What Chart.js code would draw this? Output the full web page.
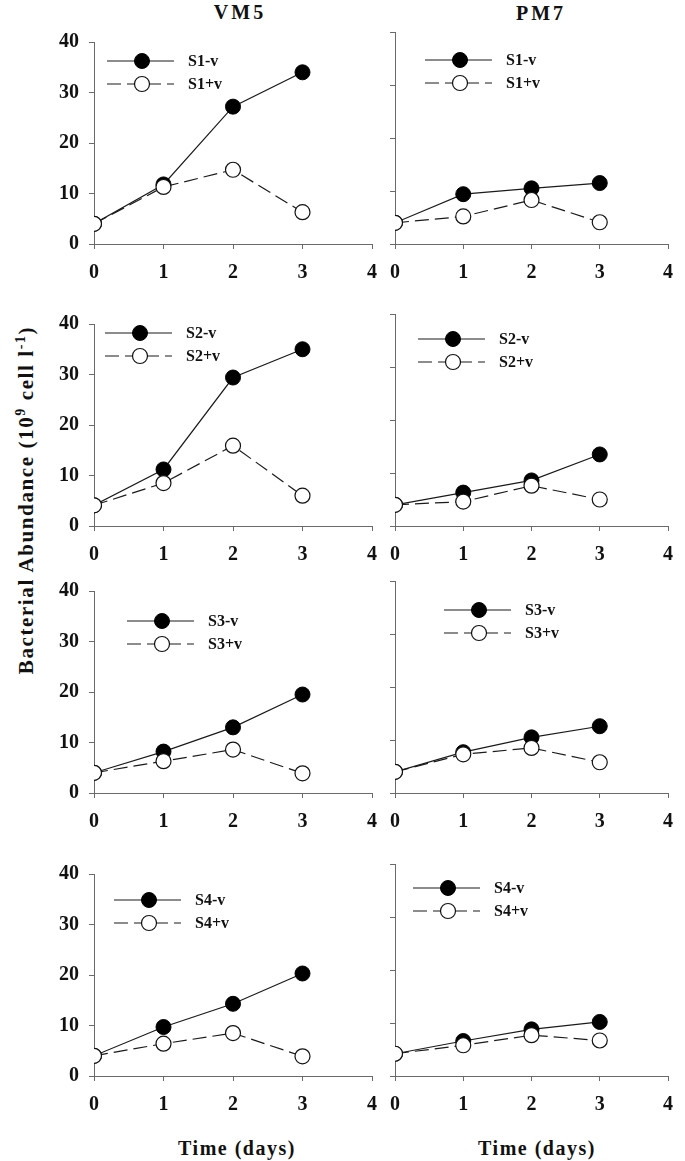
<!DOCTYPE html>
<html>
<head>
<meta charset="utf-8">
<script src="https://cdn.jsdelivr.net/npm/chart.js@4.4.1/dist/chart.umd.min.js"></script>
<style>
  body { margin: 0; background: #fff; }
  #page { position: relative; width: 685px; height: 1161px; overflow: hidden; }
  #page canvas { position: absolute; }
  .lbl { position: absolute; font-family: "Liberation Serif", "Times New Roman", serif; font-weight: bold; color: #111; white-space: nowrap; transform: translate(-50%, -50%); }
  .head { font-size: 20px; letter-spacing: 3px; }
  .xtitle { font-size: 20px; letter-spacing: 1.5px; }
  .ytitle { font-size: 21px; letter-spacing: 1.6px; transform: translate(-50%, -50%) rotate(-90deg); }
  .ytitle sup { font-size: 14px; }
</style>
</head>
<body>
<div id="page">
  <div class="lbl head" style="left:240px; top:12px;">VM5</div>
  <div class="lbl head" style="left:541px; top:13px;">PM7</div>
  <div class="lbl xtitle" style="left:237px; top:1148px;">Time (days)</div>
  <div class="lbl xtitle" style="left:537px; top:1148px;">Time (days)</div>
  <div class="lbl ytitle" style="left:26px; top:500px;">Bacterial Abundance (10<sup>9</sup> cell l<sup>-1</sup>)</div>
</div>
<script>
// time axis (days) and y ticks
const days = [0, 1, 2, 3];
const xMax = 4;
const yMax = 40;
const yStep = 10;

const sites = ["VM5", "PM7"];
const stations = ["S1", "S2", "S3", "S4"];

// bacterial abundance, 10^9 cell l-1 ("-v" = no virus, "+v" = virus added)
const vm5S1NoVirus = [4.0, 11.8, 27.2, 34.0];
const vm5S1Virus   = [4.0, 11.3, 14.7, 6.3];
const pm7S1NoVirus = [4.0, 9.4, 10.5, 11.5];
const pm7S1Virus   = [4.0, 5.2, 8.3, 4.1];

const vm5S2NoVirus = [4.1, 11.2, 29.4, 35.0];
const vm5S2Virus   = [4.1, 8.5, 15.9, 6.0];
const pm7S2NoVirus = [4.0, 6.3, 8.6, 13.5];
const pm7S2Virus   = [4.0, 4.6, 7.6, 5.0];

const vm5S3NoVirus = [4.0, 8.2, 13.0, 19.5];
const vm5S3Virus   = [4.0, 6.3, 8.6, 3.9];
const pm7S3NoVirus = [4.0, 7.7, 10.5, 12.6];
const pm7S3Virus   = [4.0, 7.3, 8.5, 5.8];

const vm5S4NoVirus = [4.0, 9.7, 14.3, 20.3];
const vm5S4Virus   = [4.0, 6.4, 8.5, 3.9];
const pm7S4NoVirus = [4.2, 6.6, 8.8, 10.2];
const pm7S4Virus   = [4.2, 5.8, 7.7, 6.7];

const noVirus = {
  VM5: [vm5S1NoVirus, vm5S2NoVirus, vm5S3NoVirus, vm5S4NoVirus],
  PM7: [pm7S1NoVirus, pm7S2NoVirus, pm7S3NoVirus, pm7S4NoVirus]
};
const withVirus = {
  VM5: [vm5S1Virus, vm5S2Virus, vm5S3Virus, vm5S4Virus],
  PM7: [pm7S1Virus, pm7S2Virus, pm7S3Virus, pm7S4Virus]
};

// layout (pixels)
const colLefts = [94, 395];
const rowTops = [32, 314, 581, 864];
const plotW = 283, plotH = 212;
const axisW = 50, axisH = 45, padTop = 12;
const legendPos = {
  VM5: [[13, 19], [11, 9], [33, 30], [20, 26]],
  PM7: [[30, 28], [23, 25], [49, 29], [18, 24]]
};

const FONT = "'Liberation Serif', 'Times New Roman', serif";
const AXIS_COLOR = "#6a6a6a";
const LINE_COLOR = "#1a1a1a";

const panelLegend = {
  id: "panelLegend",
  afterDatasetsDraw(chart, args, opts) {
    const { ctx, chartArea } = chart;
    const x0 = chartArea.left + opts.dx;
    const y0 = chartArea.top + opts.dy;
    [1, 0].forEach((idx, row) => {
      const ds = chart.data.datasets[idx];
      const y = y0 + row * 23;
      ctx.save();
      ctx.strokeStyle = ds.borderColor;
      ctx.lineWidth = ds.borderWidth;
      ctx.setLineDash(ds.borderDash || []);
      ctx.beginPath();
      ctx.moveTo(x0, y);
      ctx.lineTo(x0 + 67, y);
      ctx.stroke();
      ctx.setLineDash([]);
      ctx.beginPath();
      ctx.arc(x0 + 35, y, ds.pointRadius, 0, Math.PI * 2);
      ctx.fillStyle = ds.pointBackgroundColor;
      ctx.fill();
      ctx.lineWidth = ds.pointBorderWidth;
      ctx.strokeStyle = ds.pointBorderColor;
      ctx.stroke();
      ctx.fillStyle = "#111";
      ctx.font = "bold 16px " + FONT;
      ctx.textBaseline = "middle";
      ctx.fillText(ds.label, x0 + 81, y + 1);
      ctx.restore();
    });
  }
};

function toPoints(values) {
  return days.map((d, i) => ({ x: d, y: values[i] }));
}

function makePanel(col, row) {
  const site = sites[col];
  const st = stations[row];
  const padRight = col === 0 ? 12 : 7;
  const w = axisW + plotW + padRight;
  const h = padTop + plotH + axisH;

  const canvas = document.createElement("canvas");
  canvas.width = w;
  canvas.height = h;
  canvas.style.left = (colLefts[col] - axisW) + "px";
  canvas.style.top = (rowTops[row] - padTop) + "px";
  canvas.style.width = w + "px";
  canvas.style.height = h + "px";
  document.getElementById("page").appendChild(canvas);

  const [dx, dy] = legendPos[site][row];

  new Chart(canvas, {
    type: "line",
    data: {
      datasets: [
        {
          label: st + "+v",
          data: toPoints(withVirus[site][row]),
          order: 0,
          borderColor: LINE_COLOR,
          borderWidth: 1.2,
          borderDash: [14, 6],
          pointRadius: 7.5,
          pointBackgroundColor: "#fff",
          pointBorderColor: "#111",
          pointBorderWidth: 1.2
        },
        {
          label: st + "-v",
          data: toPoints(noVirus[site][row]),
          order: 1,
          borderColor: LINE_COLOR,
          borderWidth: 1.2,
          pointRadius: 7.5,
          pointBackgroundColor: "#000",
          pointBorderColor: "#000",
          pointBorderWidth: 1
        }
      ]
    },
    options: {
      responsive: false,
      animation: false,
      events: [],
      devicePixelRatio: 1,
      layout: { padding: { left: 0, top: padTop, right: padRight, bottom: 0 } },
      plugins: {
        legend: { display: false },
        tooltip: { enabled: false },
        panelLegend: { dx, dy }
      },
      scales: {
        x: {
          type: "linear",
          min: 0,
          max: xMax,
          afterFit: s => { s.height = axisH; },
          grid: { drawOnChartArea: false, drawTicks: true, tickLength: 5, color: AXIS_COLOR },
          border: { display: true, color: AXIS_COLOR, width: 1 },
          ticks: {
            stepSize: 1,
            padding: 12,
            color: "#111",
            font: { family: FONT, size: 20, weight: "bold" }
          }
        },
        y: {
          min: 0,
          max: yMax,
          afterFit: s => { s.width = axisW; },
          grid: { drawOnChartArea: false, drawTicks: true, tickLength: 5, color: AXIS_COLOR },
          border: { display: true, color: AXIS_COLOR, width: 1 },
          ticks: {
            stepSize: yStep,
            padding: 10,
            color: "#111",
            display: col === 0,
            font: { family: FONT, size: 20, weight: "bold" }
          }
        }
      }
    },
    plugins: [panelLegend]
  });
}

for (let r = 0; r < stations.length; r++) {
  for (let c = 0; c < sites.length; c++) {
    makePanel(c, r);
  }
}
</script>
</body>
</html>
